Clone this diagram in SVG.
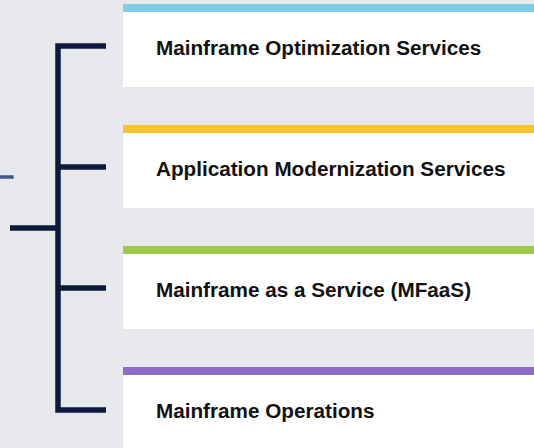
<svg xmlns="http://www.w3.org/2000/svg" width="534" height="448" viewBox="0 0 534 448">
  <style>
    .box { fill: #FFFFFF; }
    .label { font-family: "Liberation Sans", Arial, sans-serif; font-weight: 700; font-size: 20.7px; fill: #111111; }
    .conn { fill: none; stroke: #0C1A3C; stroke-width: 5.5; stroke-linejoin: miter; stroke-linecap: butt; }
  </style>
  <rect x="0" y="0" width="534" height="448" fill="#E8E9ED"/>
  <g id="connectors">
    <path class="conn" d="M106,46 H58 V410 H106"/>
    <path class="conn" d="M58,167 H106"/>
    <path class="conn" d="M58,288 H106"/>
    <path class="conn" d="M10,228 H58"/>
    <path d="M0,177 H13.7" stroke="#3B5A8A" stroke-width="3.5" fill="none"/>
  </g>
  <g id="node-optimization">
    <rect class="box" x="123" y="4" width="411" height="83"/>
    <rect x="123" y="4" width="411" height="8" fill="#7ECEE3"/>
    <text class="label" x="156" y="54.5">Mainframe Optimization Services</text>
  </g>
  <g id="node-modernization">
    <rect class="box" x="123" y="125" width="411" height="83"/>
    <rect x="123" y="125" width="411" height="8" fill="#FFC22E"/>
    <text class="label" x="156" y="175.5">Application Modernization Services</text>
  </g>
  <g id="node-mfaas">
    <rect class="box" x="123" y="246" width="411" height="83"/>
    <rect x="123" y="246" width="411" height="8" fill="#9CC94A"/>
    <text class="label" x="156" y="297">Mainframe as a Service (MFaaS)</text>
  </g>
  <g id="node-operations">
    <rect class="box" x="123" y="367" width="411" height="83"/>
    <rect x="123" y="367" width="411" height="8" fill="#8E6CC8"/>
    <text class="label" x="156" y="418">Mainframe Operations</text>
  </g>
</svg>
